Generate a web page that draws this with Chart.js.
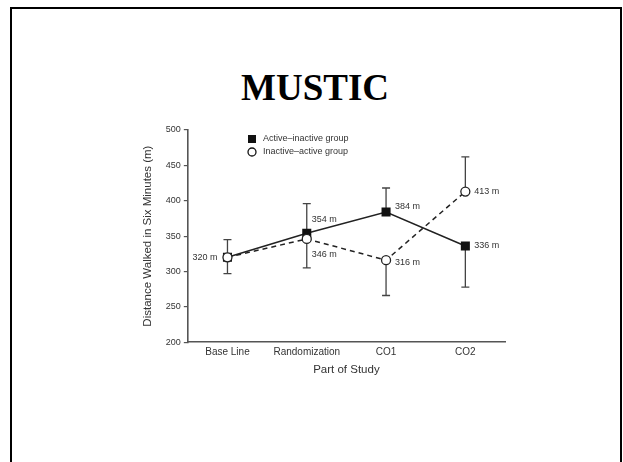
<!DOCTYPE html>
<html>
<head>
<meta charset="utf-8">
<script src="https://cdn.jsdelivr.net/npm/chart.js@4.4.0/dist/chart.umd.min.js"></script>
<style>
  html, body { margin: 0; padding: 0; background: #fff; }
  body { width: 623px; height: 462px; position: relative; overflow: hidden; }
  #frame {
    position: absolute; left: 10px; top: 7px; width: 608px; height: 500px;
    border: 2px solid #000; pointer-events: none;
  }
  #title {
    position: absolute; left: 0; width: 630px; top: 69px; text-align: center;
    font-family: "Liberation Serif", "Times New Roman", serif; font-weight: bold;
    font-size: 37px; line-height: 37px; color: #000;
  }
  #chart { position: absolute; left: 0; top: 0; }
</style>
</head>
<body>
<div id="frame"></div>
<div id="title">MUSTIC</div>
<canvas id="chart" width="623" height="462"></canvas>
<script>
const categories = ["Base Line", "Randomization", "CO1", "CO2"];
const activeInactive = [320, 354, 384, 336];
const inactiveActive = [320, 346, 316, 413];
// end of each error bar (bars are drawn one-sided, away from the other series)
const activeErrorEnd = [345, 396, 418, 278];
const inactiveErrorEnd = [297, 305, 266, 462];
const yTicks = [200, 250, 300, 350, 400, 450, 500];

const ink = "#333";
const axisGrey = "#555";
const font = "'Liberation Sans', Arial, sans-serif";

// where the "xxx m" labels sit next to each point: [dx, dy, align] or null
const labelSpots = [
  [[-10, 0, "right"], [5, -14, "left"], [9, -6, "left"], [9, 0, "left"]],
  [null, [5, 16, "left"], [9, 2, "left"], [9, 0, "left"]],
];

const errorBars = {
  id: "errorBars",
  beforeDatasetsDraw(chart) {
    const { ctx, scales } = chart;
    const ends = [activeErrorEnd, inactiveErrorEnd];
    ctx.save();
    ctx.strokeStyle = "#444";
    ctx.lineWidth = 1.3;
    chart.data.datasets.forEach((ds, i) => {
      ds.data.forEach((v, j) => {
        const x = scales.x.getPixelForValue(j);
        const y0 = scales.y.getPixelForValue(v);
        const y1 = scales.y.getPixelForValue(ends[i][j]);
        ctx.beginPath();
        ctx.moveTo(x, y0);
        ctx.lineTo(x, y1);
        ctx.moveTo(x - 4, y1);
        ctx.lineTo(x + 4, y1);
        ctx.stroke();
      });
    });
    ctx.restore();
  },
};

const pointLabels = {
  id: "pointLabels",
  afterDatasetsDraw(chart) {
    const { ctx, scales } = chart;
    ctx.save();
    ctx.font = "9px " + font;
    ctx.fillStyle = ink;
    ctx.textBaseline = "middle";
    chart.data.datasets.forEach((ds, i) => {
      ds.data.forEach((v, j) => {
        const spot = labelSpots[i][j];
        if (!spot) return;
        ctx.textAlign = spot[2];
        ctx.fillText(v + " m", scales.x.getPixelForValue(j) + spot[0], scales.y.getPixelForValue(v) + spot[1]);
      });
    });
    ctx.restore();
  },
};

const boxLegend = {
  id: "boxLegend",
  afterDraw(chart) {
    const { ctx } = chart;
    const x = 252, y = 139;
    ctx.save();
    ctx.fillStyle = "#111";
    ctx.fillRect(x - 4, y - 4, 8, 8);
    ctx.beginPath();
    ctx.arc(x, y + 13, 4, 0, Math.PI * 2);
    ctx.fillStyle = "#fff";
    ctx.fill();
    ctx.strokeStyle = "#111";
    ctx.lineWidth = 1.3;
    ctx.stroke();
    ctx.font = "9px " + font;
    ctx.fillStyle = ink;
    ctx.textBaseline = "middle";
    ctx.textAlign = "left";
    chart.data.datasets.forEach((ds, i) => ctx.fillText(ds.label, x + 11, y + i * 13));
    ctx.restore();
  },
};

new Chart(document.getElementById("chart"), {
  type: "line",
  data: {
    labels: categories,
    datasets: [
      {
        label: "Active–inactive group",
        data: activeInactive,
        borderColor: "#222",
        borderWidth: 1.5,
        pointStyle: "rect",
        pointRadius: 6.4,
        pointBackgroundColor: "#111",
        pointBorderColor: "#111",
        pointBorderWidth: 0,
        order: 2,
      },
      {
        label: "Inactive–active group",
        data: inactiveActive,
        borderColor: "#222",
        borderWidth: 1.5,
        borderDash: [5, 4],
        pointStyle: "circle",
        pointRadius: 4.5,
        pointBackgroundColor: "#fff",
        pointBorderColor: "#222",
        pointBorderWidth: 1.3,
        order: 1,
      },
    ],
  },
  options: {
    responsive: false,
    animation: false,
    layout: { padding: { left: 141, right: 118, top: 130, bottom: 84 } },
    plugins: { legend: { display: false }, tooltip: { enabled: false } },
    scales: {
      x: {
        type: "category",
        offset: true,
        grid: { display: false, drawTicks: false },
        border: { display: true, color: axisGrey, width: 1.6 },
        ticks: { color: ink, padding: 4, font: { family: font, size: 10 } },
        title: {
          display: true, text: "Part of Study", color: ink,
          font: { family: font, size: 11.5 }, padding: { top: 1, bottom: 1 },
        },
      },
      y: {
        min: 200, max: 500,
        afterBuildTicks: (axis) => { axis.ticks = yTicks.map((v) => ({ value: v })); },
        grid: { drawOnChartArea: false, drawTicks: true, tickLength: 4, color: axisGrey, lineWidth: 1.2 },
        border: { display: true, color: axisGrey, width: 1.6 },
        ticks: { color: ink, padding: 3, font: { family: font, size: 9 } },
        title: {
          display: true, text: "Distance Walked in Six Minutes (m)", color: ink,
          font: { family: font, size: 11.5 }, padding: { top: 0, bottom: 8 },
        },
      },
    },
  },
  plugins: [errorBars, pointLabels, boxLegend],
});
</script>
</body>
</html>
